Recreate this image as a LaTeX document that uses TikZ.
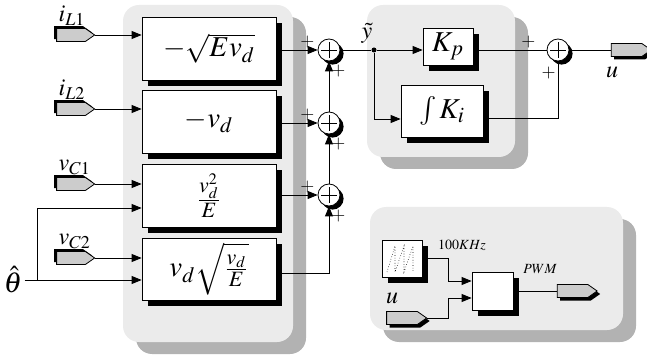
\documentclass[tikz,border=0pt]{standalone}
\usepackage{mathptmx}
\usetikzlibrary{arrows.meta, positioning, shapes.symbols, shadows, calc}

\begin{document}
\begin{tikzpicture}[
    x=0.5pt, y=-0.5pt,
    panel/.style={fill=gray!16, rectangle, rounded corners=8pt, inner sep=0pt, general shadow={fill=gray!60, shadow xshift=6.5pt, shadow yshift=-6pt}},
    block/.style={draw, fill=white, rectangle, inner sep=0pt, font=\Large, general shadow={fill=black, shadow xshift=3pt, shadow yshift=-3pt}},
    sum/.style={draw, fill=white, circle, minimum size=11pt, inner sep=0pt, general shadow={fill=black, shadow xshift=1.8pt, shadow yshift=-1.8pt},
        path picture={\draw ([xshift=-4pt]path picture bounding box.center) -- ([xshift=4pt]path picture bounding box.center)
            ([yshift=-4pt]path picture bounding box.center) -- ([yshift=4pt]path picture bounding box.center);}},
    port/.style={draw, fill=gray!40, signal, signal to=east, signal pointer angle=70, minimum height=6.5pt, inner sep=0pt},
    inport/.style={port, minimum width=19pt, general shadow={fill=black, shadow xshift=-1.2pt, shadow yshift=1.2pt}},
    outport/.style={port, minimum width=20pt, general shadow={fill=black, shadow xshift=1.5pt, shadow yshift=-1.5pt}},
    line/.style={draw, -{Triangle[length=5pt, width=4pt]}},
    wire/.style={draw},
    sign/.style={font=\small, inner sep=1pt},
    lbl/.style={font=\large, inner sep=1pt}
]
    \useasboundingbox (0,0) rectangle (647,363);

    % background panels
    \node[panel, minimum width=85pt, minimum height=168.5pt] (pL) at (208,173.5) {};
    \node[panel, minimum width=74pt, minimum height=76pt] (pT) at (441,81) {};
    \node[panel, minimum width=126.5pt, minimum height=61.5pt] (pB) at (496.5,268.5) {};

    % nonlinear blocks
    \node[block, minimum width=67pt, minimum height=31.5pt] (b1) at (209,48.5) {$-\sqrt{E v_d}$};
    \node[block, minimum width=67pt, minimum height=31.5pt] (b2) at (209,121.5) {$-v_d$};
    \node[block, minimum width=67pt, minimum height=31.5pt] (b3) at (209,195.5) {$\frac{v_d^2}{E}$};
    \node[block, minimum width=67pt, minimum height=31pt] (b4) at (209,269) {$v_d\sqrt{\frac{v_d}{E}}$};

    % inputs
    \node[inport] (p1) at (71,35) {};
    \node[inport] (p2) at (71,109) {};
    \node[inport] (p3) at (71,184) {};
    \node[inport] (p4) at (71,258) {};
    \node[lbl, anchor=south west] at (p1.north west) {$i_{L1}$};
    \node[lbl, anchor=south west] at (p2.north west) {$i_{L2}$};
    \node[lbl, anchor=south west] at (p3.north west) {$v_{C1}$};
    \node[lbl, anchor=south west] at (p4.north west) {$v_{C2}$};
    \node[font=\Large, inner sep=1pt] (th) at (13,280) {$\hat{\theta}$};
    \coordinate (br) at (37,208);

    \draw[line] (p1.east) -- (p1.east -| b1.west);
    \draw[line] (p2.east) -- (p2.east -| b2.west);
    \draw[line] (p3.east) -- (p3.east -| b3.west);
    \draw[line] (p4.east) -- (p4.east -| b4.west);
    \draw[line] (th.east) -- (th.east -| b4.west);
    \draw[line] (br |- th.east) -- (br) -- (br -| b3.west);

    % summing junctions
    \node[sum] (s1) at (329,50) {};
    \node[sum] (s2) at (329,123) {};
    \node[sum] (s3) at (329,195) {};

    \draw[line] (b1.east |- s1) -- (s1.west) node[sign, pos=0.75, above] {$+$};
    \draw[line] (b2.east |- s2) -- (s2.west) node[sign, pos=0.75, above] {$+$};
    \draw[line] (b3.east |- s3) -- (s3.west) node[sign, pos=0.75, above] {$+$};
    \draw[line] (s2) -- (s1) node[sign, pos=0.8, right] {$+$};
    \draw[line] (s3) -- (s2) node[sign, pos=0.8, right] {$+$};
    \draw[line] ([yshift=-2pt]b4.east) -| (s3) node[sign, pos=0.93, right] {$+$};

    % PI controller
    \node[block, minimum width=25pt, minimum height=18.5pt] (kp) at (448,46.5) {$K_p$};
    \node[block, minimum width=41pt, minimum height=26pt] (ki) at (442,111) {$\int K_i$};
    \node[sum] (s4) at (558,50) {};
    \node[circle, fill, inner sep=0pt, minimum size=2.5pt] (dot) at (374,50) {};
    \node[lbl] at (367,33) {$\tilde{y}$};

    \draw[wire] (s1) -- (dot);
    \draw[line] (dot) -- (dot -| kp.west);
    \draw[line] (dot) |- ([yshift=-4pt]ki.west);
    \draw[wire] (kp.east |- s4) -- (s4) node[sign, pos=0.75, above] {$+$};
    \draw[wire] ([yshift=-3.5pt]ki.east) -| (s4) node[sign, pos=0.9, left] {$+$};

    \node[outport] (uo) at (626.5,50) {};
    \draw[wire] (s4) -- (uo.west);
    \node[lbl] at (612,72) {$u$};

    % PWM stage
    \node[block, minimum width=20pt, minimum height=18.5pt] (saw) at (402,258.5) {};
    \draw[densely dotted, line width=0.3pt] (387,272) -- (395,246) -- (395,272) -- (404,246) -- (404,272) -- (413,246) -- (413,272);
    \node[block, minimum width=20.5pt, minimum height=19pt] (cmp) at (492.5,291) {};
    \node[outport] (ui) at (402,318) {};
    \node[outport] (pw) at (572.5,291) {};
    \node[lbl] at (392,298) {$u$};
    \node[font=\scriptsize] at (462,245) {$100KHz$};
    \node[font=\scriptsize] at (540,269) {$PWM$};

    \draw[line] (saw.east) -| ([xshift=-11.5pt, yshift=5pt]cmp.west) -- ([yshift=5pt]cmp.west);
    \draw[line] (ui.east) -| ([xshift=-11.5pt, yshift=-3.5pt]cmp.west) -- ([yshift=-3.5pt]cmp.west);
    \draw[wire] (cmp) -- (pw.west);
\end{tikzpicture}
\end{document}
